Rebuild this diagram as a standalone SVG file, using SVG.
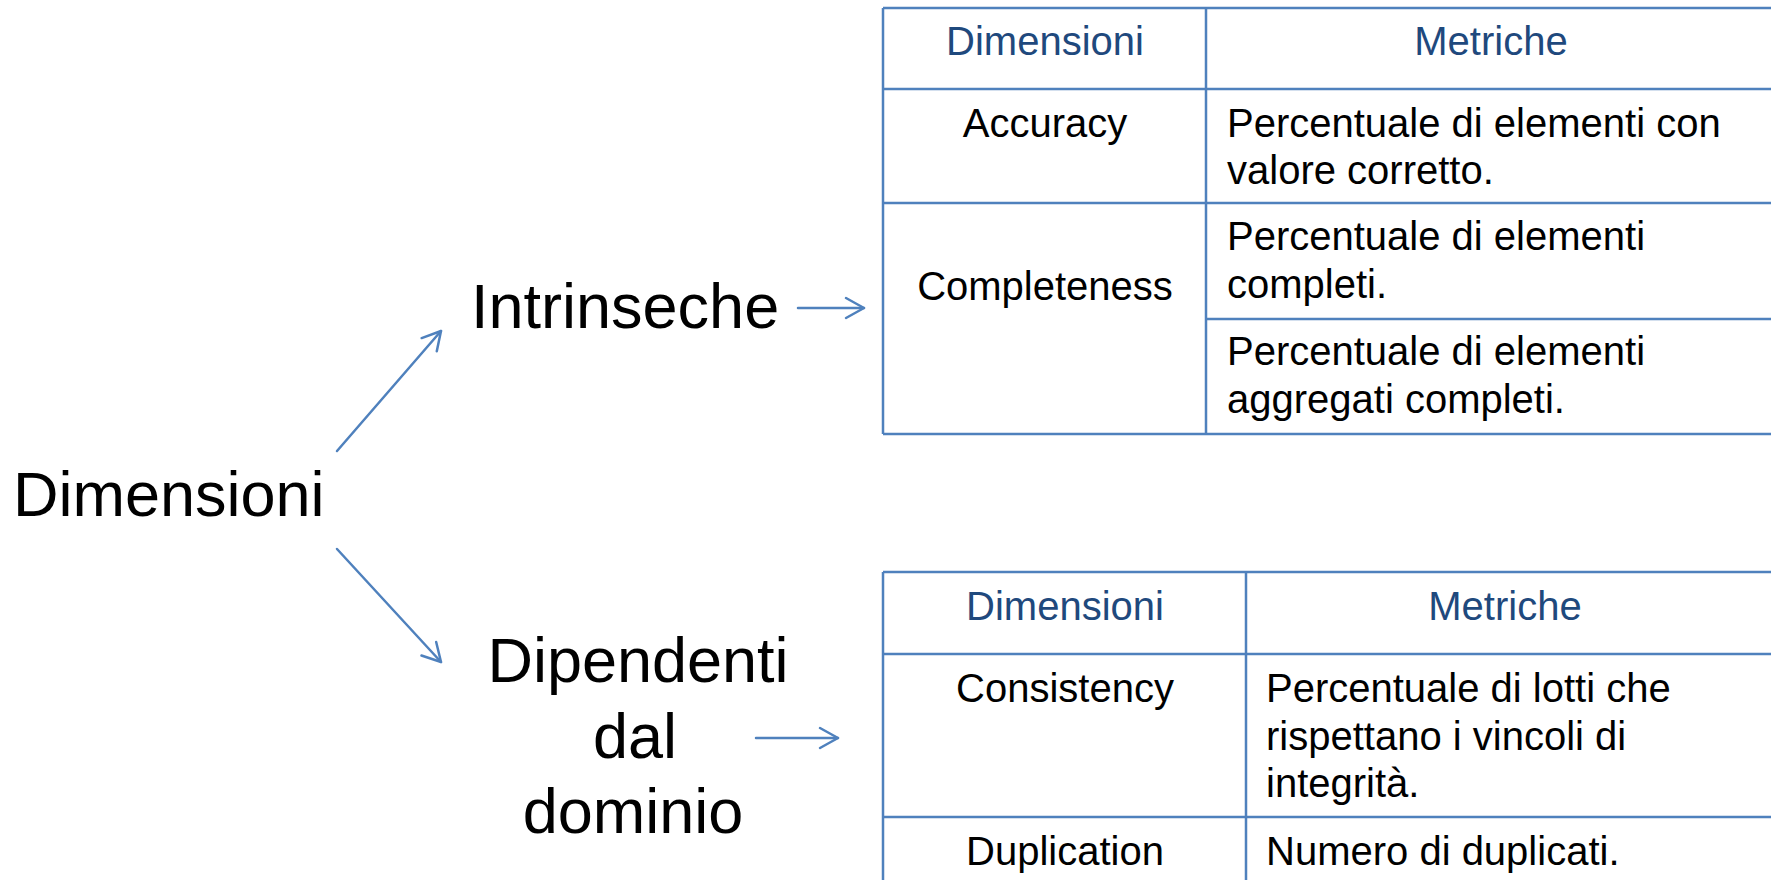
<svg xmlns="http://www.w3.org/2000/svg" width="1771" height="880" viewBox="0 0 1771 880">
<defs>
<style>
text{font-family:"Liberation Sans",Arial,sans-serif;}
.big{font-size:63px;fill:#000;}
.hd{font-size:40px;fill:#1F497D;}
.bd{font-size:40px;fill:#000;}
.c{text-anchor:middle;}
.grid{stroke:#4F81BD;stroke-width:2.5;fill:none;}
.conn{stroke:#4F81BD;stroke-width:2.5;fill:none;stroke-linecap:round;}
</style>
<marker id="ah" viewBox="-21 -12 23 24" refX="0" refY="0" markerWidth="23" markerHeight="24" markerUnits="userSpaceOnUse" orient="auto">
<path d="M-18,-10 L0,0 L-18,10" fill="none" stroke="#4F81BD" stroke-width="2.5" stroke-linecap="round" stroke-linejoin="round"/>
</marker>
</defs>
<rect width="1771" height="880" fill="#fff"/>

<g id="node-dimensioni"><text class="big" x="13" y="516">Dimensioni</text></g>
<g id="node-intrinseche"><text class="big" x="471" y="328">Intrinseche</text></g>
<g id="node-dipendenti">
<text class="big c" x="638" y="682">Dipendenti</text>
<text class="big c" x="635" y="758">dal</text>
<text class="big c" x="633" y="833">dominio</text>
</g>

<g id="table-intrinseche">
<g class="grid">
<line x1="883" y1="8" x2="1775" y2="8"/>
<line x1="883" y1="89" x2="1775" y2="89"/>
<line x1="883" y1="203" x2="1775" y2="203"/>
<line x1="1206" y1="319" x2="1775" y2="319"/>
<line x1="883" y1="434" x2="1775" y2="434"/>
<line x1="883" y1="8" x2="883" y2="434"/>
<line x1="1206" y1="8" x2="1206" y2="434"/>
</g>
<text class="hd c" x="1045" y="55">Dimensioni</text>
<text class="hd c" x="1491" y="55">Metriche</text>
<text class="bd c" x="1045" y="137">Accuracy</text>
<text class="bd" x="1227" y="137">Percentuale di elementi con</text>
<text class="bd" x="1227" y="184">valore corretto.</text>
<text class="bd c" x="1045" y="300">Completeness</text>
<text class="bd" x="1227" y="250">Percentuale di elementi</text>
<text class="bd" x="1227" y="298">completi.</text>
<text class="bd" x="1227" y="365">Percentuale di elementi</text>
<text class="bd" x="1227" y="413">aggregati completi.</text>
</g>

<g id="table-dipendenti">
<g class="grid">
<line x1="883" y1="572" x2="1775" y2="572"/>
<line x1="883" y1="654" x2="1775" y2="654"/>
<line x1="883" y1="817" x2="1775" y2="817"/>
<line x1="883" y1="572" x2="883" y2="885"/>
<line x1="1246" y1="572" x2="1246" y2="885"/>
</g>
<text class="hd c" x="1065" y="620">Dimensioni</text>
<text class="hd c" x="1505" y="620">Metriche</text>
<text class="bd c" x="1065" y="702">Consistency</text>
<text class="bd" x="1266" y="702">Percentuale di lotti che</text>
<text class="bd" x="1266" y="750">rispettano i vincoli di</text>
<text class="bd" x="1266" y="797">integrità.</text>
<text class="bd c" x="1065" y="865">Duplication</text>
<text class="bd" x="1266" y="865">Numero di duplicati.</text>
</g>

<g id="connectors">
<line class="conn" x1="337" y1="451" x2="441" y2="331" marker-end="url(#ah)"/>
<line class="conn" x1="337" y1="549" x2="441" y2="662" marker-end="url(#ah)"/>
<line class="conn" x1="798" y1="308" x2="864" y2="308" marker-end="url(#ah)"/>
<line class="conn" x1="756" y1="738" x2="838" y2="738" marker-end="url(#ah)"/>
</g>
</svg>
